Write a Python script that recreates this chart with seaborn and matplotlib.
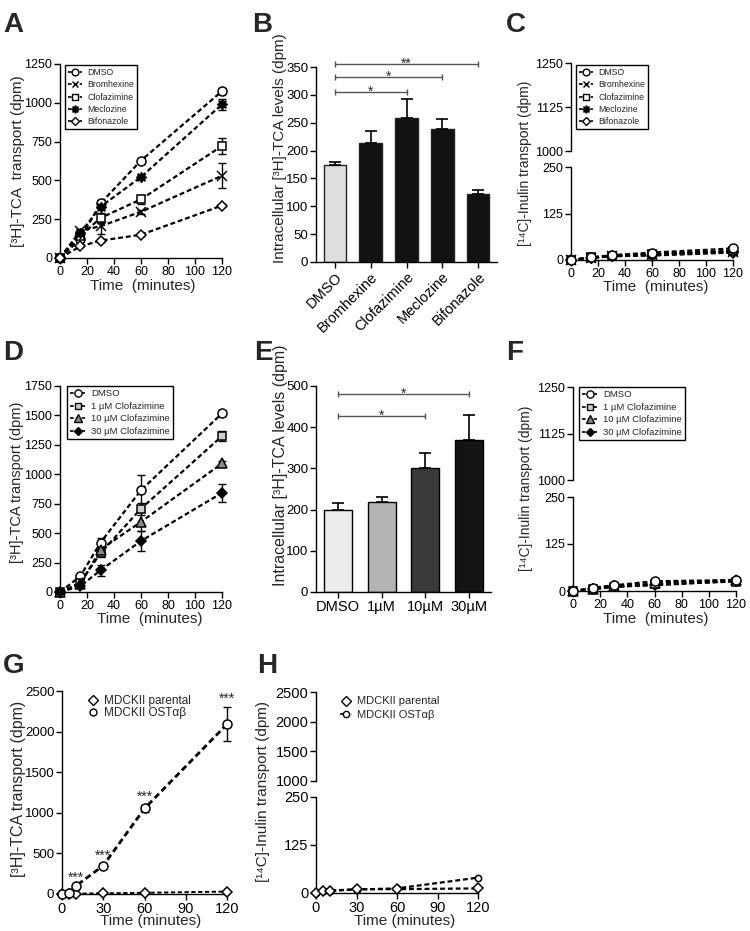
import numpy as np
import pandas as pd
import matplotlib
matplotlib.use("Agg")
import matplotlib.pyplot as plt
import seaborn as sns
from matplotlib.lines import Line2D

# ---------------- data ----------------
time_a = [0, 15, 30, 60, 120]
a_labels = ["DMSO", "Bromhexine", "Clofazimine", "Meclozine", "Bifonazole"]
a_dmso = [0, 122, 352, 628, 1075]
a_dmso_err = [0, 10, 22, 15, 20]
a_brom = [0, 175, 205, 298, 530]
a_brom_err = [0, 10, 50, 12, 80]
a_clof = [0, 140, 258, 378, 722]
a_clof_err = [0, 10, 30, 30, 50]
a_mecl = [0, 160, 330, 522, 990]
a_mecl_err = [0, 10, 15, 15, 35]
a_bifo = [0, 75, 112, 150, 338]
a_bifo_err = [0, 5, 10, 10, 12]

b_cats = ["DMSO", "Bromhexine", "Clofazimine", "Meclozine", "Bifonazole"]
b_vals = [174, 214, 258, 238, 122]
b_errs = [6, 21, 34, 18, 8]
b_sig = [(0, 4, 355, "**"), (0, 3, 332, "*"), (0, 2, 305, "*")]

c_dmso = [0, 7, 13, 20, 31]
c_brom = [0, 6, 10, 14, 22]
c_clof = [0, 7, 11, 15, 25]
c_mecl = [0, 6, 12, 16, 24]
c_bifo = [0, 5, 10, 12, 20]

d_labels = ["DMSO", "1 µM Clofazimine", "10 µM Clofazimine", "30 µM Clofazimine"]
d_dmso = [0, 133, 420, 865, 1517]
d_dmso_err = [0, 15, 40, 125, 25]
d_c1 = [0, 80, 330, 708, 1324]
d_c1_err = [0, 10, 30, 50, 40]
d_c10 = [0, 65, 360, 596, 1092]
d_c10_err = [0, 8, 25, 80, 25]
d_c30 = [0, 50, 184, 434, 842]
d_c30_err = [0, 8, 45, 85, 75]

e_cats = ["DMSO", "1µM", "10µM", "30µM"]
e_vals = [200, 219, 302, 368]
e_errs = [17, 12, 36, 62]
e_sig = [(0, 3, 480, "*"), (0, 2, 427, "*")]

f_dmso = [0, 9, 15, 26, 29]
f_c1 = [0, 6, 10, 18, 25]
f_c10 = [0, 5, 12, 20, 30]
f_c30 = [0, 6, 12, 15, 27]

time_g = [0, 5, 10, 30, 60, 120]
g_labels = ["MDCKII parental", "MDCKII OSTαβ"]
g_par = [0, 3, 5, 8, 15, 30]
g_ost = [0, 10, 98, 350, 1053, 2090]
g_ost_err = [0, 0, 0, 20, 40, 210]
g_sig = ["", "", "***", "***", "***", "***"]

h_par = [0, 5, 6, 10, 10, 12]
h_ost = [0, 4, 6, 9, 12, 40]

# ---------------- style ----------------
sns.set_style("ticks")
plt.rcParams["font.family"] = ["Liberation Sans", "DejaVu Sans"]
plt.rcParams["axes.linewidth"] = 1.0

W, H = 750, 931
fig = plt.figure(figsize=(W / 100, H / 100), dpi=100)


def rect(l, t, r, b):
    return [l / W, 1 - b / H, (r - l) / W, (b - t) / H]


DASH = (0, (2.2, 1.3))
TICK_FS = 9


def style_ax(ax, bottom=True):
    ax.spines["top"].set_visible(False)
    ax.spines["right"].set_visible(False)
    for s in ("left", "bottom"):
        ax.spines[s].set_linewidth(1.0)
        ax.spines[s].set_color("k")
    ax.tick_params(direction="out", length=4, width=1, labelsize=TICK_FS,
                   pad=1.5, colors="k")
    if not bottom:
        ax.spines["bottom"].set_visible(False)
        ax.tick_params(axis="x", bottom=False, labelbottom=False)


def ylabel_px(ax, text, x_right, y_center, fs):
    ax.set_ylabel(text, fontsize=fs)
    bb = ax.get_position()
    xa = (x_right / W - bb.x0) / bb.width
    ya = ((1 - y_center / H) - bb.y0) / bb.height
    ax.yaxis.set_label_coords(xa, ya)


def xlabel_px(ax, text, x_center, y_top, fs):
    ax.set_xlabel(text, fontsize=fs)
    bb = ax.get_position()
    xa = (x_center / W - bb.x0) / bb.width
    ya = ((1 - y_top / H) - bb.y0) / bb.height
    ax.xaxis.set_label_coords(xa, ya)


def series(ax, x, y, err, marker, mfc, ms, mew=1.1, lw=1.6):
    sns.lineplot(x=x, y=y, ax=ax, color="k", linestyle=DASH, linewidth=lw,
                 marker=marker, markersize=ms, markerfacecolor=mfc,
                 markeredgecolor="k", markeredgewidth=mew, errorbar=None,
                 clip_on=False, zorder=3)
    if err is not None:
        ax.errorbar(x, y, yerr=err, fmt="none", ecolor="k", elinewidth=1.0,
                    capsize=3, capthick=1.0, zorder=2, clip_on=False)


def handle(marker, mfc, ms, lw=1.2, ls=DASH):
    return Line2D([0], [0], color="k", linestyle=ls, linewidth=lw,
                  marker=marker, markersize=ms, markerfacecolor=mfc,
                  markeredgecolor="k", markeredgewidth=1.0)


def boxed_legend(ax, handles, labels, x_px, y_px, fs):
    leg = ax.legend(handles, labels, loc="upper left",
                    bbox_to_anchor=(x_px / W, 1 - y_px / H),
                    bbox_transform=fig.transFigure, borderaxespad=0,
                    fontsize=fs, frameon=True, fancybox=False, framealpha=1,
                    edgecolor="k", borderpad=0.35, labelspacing=0.38,
                    handlelength=1.6, handletextpad=0.6)
    leg.get_frame().set_linewidth(1.0)
    return leg


def sig_line(ax, x0, x1, y, text):
    ax.plot([x0, x1], [y, y], color="#555555", lw=1.0, marker="|",
            markersize=5, markeredgewidth=1.0, clip_on=False, zorder=4)
    ax.annotate(text, xy=((x0 + x1) / 2, y), xytext=(0, -2.6),
                textcoords="offset points", ha="center", va="baseline",
                fontsize=10, annotation_clip=False)


def panel_letter(x, y, s):
    fig.text(x / W, 1 - y / H, s, fontsize=20, fontweight="bold",
             va="baseline", ha="left")


time_label = "Time  (minutes)"
tca_label = "[³H]-TCA  transport (dpm)"
inulin_label = "[¹⁴C]-Inulin transport (dpm)"
intra_label = "Intracellular [³H]-TCA levels (dpm)"

a_markers = [("o", "white", 6.5), ("x", "k", 6.5), ("s", "white", 6.0),
             ((8, 1, 0), "k", 7.5), ("D", "white", 5.0)]
d_markers = [("o", "white", 6.5), ("s", "#cfcfcf", 6.0), ("^", "#8a8a8a", 6.5),
             ("D", "k", 5.5)]

# ---------------- panel A ----------------
axA = fig.add_axes(rect(60, 64, 222, 258))
style_ax(axA)
a_series = [(a_dmso, a_dmso_err), (a_brom, a_brom_err), (a_clof, a_clof_err),
            (a_mecl, a_mecl_err), (a_bifo, a_bifo_err)]
for (vals, errs), (m, fc, ms) in zip(a_series, a_markers):
    series(axA, time_a, vals, errs, m, fc, ms)
axA.set_xlim(0, 120)
axA.set_ylim(0, 1250)
axA.set_xticks([0, 20, 40, 60, 80, 100, 120])
axA.set_yticks([0, 250, 500, 750, 1000, 1250])
boxed_legend(axA, [handle(m, fc, ms * 0.75) for m, fc, ms in a_markers],
             a_labels, 65, 65, 6.3)
ylabel_px(axA, tca_label, 25, 161, 11)
xlabel_px(axA, time_label, 143, 279, 11)

# ---------------- panel B ----------------
axB = fig.add_axes(rect(316, 67, 497, 262))
b_colors = ["#dedede", "#121212", "#121212", "#121212", "#121212"]
sns.barplot(x=b_cats, y=b_vals, hue=b_cats, palette=b_colors, legend=False,
            ax=axB, width=0.64, saturation=1, edgecolor="#222222",
            linewidth=1.0, errorbar=None)
axB.errorbar(range(len(b_vals)), b_vals, yerr=[np.zeros(len(b_errs)), b_errs],
             fmt="none", ecolor="k", elinewidth=1.2, capsize=4, capthick=1.2,
             zorder=3)
style_ax(axB)
axB.tick_params(axis="y", labelsize=9.5)
axB.set_xlim(-0.53, 4.53)
axB.set_ylim(0, 350)
axB.set_yticks(range(0, 351, 50))
axB.set_xticks(range(len(b_cats)))
axB.set_xticklabels(b_cats, rotation=45, ha="right", rotation_mode="anchor",
                    fontsize=10.5)
axB.set_xlabel("")
for x0, x1, y, t in b_sig:
    sig_line(axB, x0, x1, y, t)
ylabel_px(axB, intra_label, 287, 148, 11)

# ---------------- panel C ----------------
axC2 = fig.add_axes(rect(571, 63, 733, 151))
axC = fig.add_axes(rect(571, 167, 733, 260))
style_ax(axC2, bottom=False)
style_ax(axC)
c_series = [c_dmso, c_brom, c_clof, c_mecl, c_bifo]
order = [4, 3, 2, 1, 0]
for i in order:
    m, fc, ms = a_markers[i]
    series(axC, time_a, c_series[i], None, m, fc, ms)
for a in (axC, axC2):
    a.set_xlim(0, 120)
axC.set_ylim(0, 250)
axC.set_yticks([0, 125, 250])
axC2.set_ylim(1000, 1250)
axC2.set_yticks([1000, 1125, 1250])
axC.set_xticks([0, 20, 40, 60, 80, 100, 120])
boxed_legend(axC2, [handle(m, fc, ms * 0.75) for m, fc, ms in a_markers],
             a_labels, 576, 65, 6.3)
ylabel_px(axC, inulin_label, 532, 163, 10)
xlabel_px(axC, time_label, 656, 280, 11)

# ---------------- panel D ----------------
axD = fig.add_axes(rect(60, 386, 222, 592))
style_ax(axD)
d_series = [(d_dmso, d_dmso_err), (d_c1, d_c1_err), (d_c10, d_c10_err),
            (d_c30, d_c30_err)]
for (vals, errs), (m, fc, ms) in zip(d_series, d_markers):
    series(axD, time_a, vals, errs, m, fc, ms)
axD.set_xlim(0, 120)
axD.set_ylim(0, 1750)
axD.set_xticks([0, 20, 40, 60, 80, 100, 120])
axD.set_yticks(range(0, 1751, 250))
boxed_legend(axD, [handle(m, fc, ms * 0.8) for m, fc, ms in d_markers],
             d_labels, 67, 386, 6.8)
ylabel_px(axD, tca_label.replace("  ", " "), 24, 482, 10.5)
xlabel_px(axD, time_label, 150, 612, 11)

# ---------------- panel E ----------------
axE = fig.add_axes(rect(316, 386, 491, 592))
e_colors = ["#ececec", "#b4b4b4", "#3a3a3a", "#141414"]
sns.barplot(x=e_cats, y=e_vals, hue=e_cats, palette=e_colors, legend=False,
            ax=axE, width=0.64, saturation=1, edgecolor="k", linewidth=1.0,
            errorbar=None)
axE.errorbar(range(len(e_vals)), e_vals, yerr=[np.zeros(len(e_errs)), e_errs],
             fmt="none", ecolor="k", elinewidth=1.2, capsize=4, capthick=1.2,
             zorder=3)
style_ax(axE)
axE.tick_params(axis="y", labelsize=9.5)
axE.set_xlim(-0.5, 3.5)
axE.set_ylim(0, 500)
axE.set_yticks(range(0, 501, 100))
axE.set_xticks(range(len(e_cats)))
axE.set_xticklabels(e_cats, fontsize=10.5)
axE.set_xlabel("")
for x0, x1, y, t in e_sig:
    sig_line(axE, x0, x1, y, t)
ylabel_px(axE, intra_label, 288, 465, 11.5)

# ---------------- panel F ----------------
axF2 = fig.add_axes(rect(573, 387, 736, 480))
axF = fig.add_axes(rect(573, 497, 736, 591))
style_ax(axF2, bottom=False)
style_ax(axF)
f_series = [f_dmso, f_c1, f_c10, f_c30]
for i in [3, 2, 1, 0]:
    m, fc, ms = d_markers[i]
    series(axF, time_a, f_series[i], None, m, fc, ms)
for a in (axF, axF2):
    a.set_xlim(0, 120)
axF.set_ylim(0, 250)
axF.set_yticks([0, 125, 250])
axF2.set_ylim(1000, 1250)
axF2.set_yticks([1000, 1125, 1250])
axF.set_xticks([0, 20, 40, 60, 80, 100, 120])
boxed_legend(axF2, [handle(m, fc, ms * 0.8) for m, fc, ms in d_markers],
             d_labels, 579, 387, 6.8)
ylabel_px(axF, inulin_label, 533, 488, 10)
xlabel_px(axF, time_label, 656, 612, 11)

# ---------------- panel G ----------------
axG = fig.add_axes(rect(62, 691, 227, 894))
style_ax(axG)
series(axG, time_g, g_par, None, "D", "white", 5.5, lw=1.4)
series(axG, time_g, g_ost, g_ost_err, "o", "white", 6.5, lw=2.0)
for t, v, e, s in zip(time_g, g_ost, g_ost_err, g_sig):
    if s:
        axG.annotate(s, xy=(t, v + e), xytext=(0, 3), textcoords="offset points",
                     ha="center", va="baseline", fontsize=10,
                     annotation_clip=False)
axG.set_xlim(0, 120)
axG.set_ylim(0, 2500)
axG.set_xticks([0, 30, 60, 90, 120])
axG.set_yticks(range(0, 2501, 500))
axG.tick_params(axis="x", labelsize=10.5)
axG.tick_params(axis="y", labelsize=9.5)
axG.legend([handle("D", "white", 5, lw=0, ls="none"),
            handle("o", "white", 5, lw=0, ls="none")], g_labels,
           loc="upper left", bbox_to_anchor=(82 / W, 1 - 690 / H),
           bbox_transform=fig.transFigure, borderaxespad=0, frameon=False,
           fontsize=8.5, labelspacing=0.05, handlelength=1.0,
           handletextpad=0.5)
ylabel_px(axG, tca_label.replace("  ", " "), 26, 789, 11.5)
xlabel_px(axG, "Time (minutes)", 151, 914, 11)

# ---------------- panel H ----------------
axH2 = fig.add_axes(rect(316, 692, 478, 781))
axH = fig.add_axes(rect(316, 797, 478, 893))
style_ax(axH2, bottom=False)
style_ax(axH)
series(axH, time_g, h_ost, None, "o", "white", 4.5, lw=1.6)
series(axH, time_g, h_par, None, "D", "white", 5.5, lw=1.6)
for a in (axH, axH2):
    a.set_xlim(0, 120)
    a.tick_params(labelsize=10.5)
axH.set_ylim(0, 250)
axH.set_yticks([0, 125, 250])
axH2.set_ylim(1000, 2500)
axH2.set_yticks([1000, 1500, 2000, 2500])
axH.set_xticks([0, 30, 60, 90, 120])
axH2.legend([handle("D", "white", 5, lw=0, ls="none"),
             handle("o", "white", 4.5, lw=1.2)], g_labels,
            loc="upper left", bbox_to_anchor=(336 / W, 1 - 692 / H),
            bbox_transform=fig.transFigure, borderaxespad=0, frameon=False,
            fontsize=8, labelspacing=0.35, handlelength=1.0,
            handletextpad=0.5)
ylabel_px(axH, inulin_label, 270, 792, 11)
xlabel_px(axH, "Time (minutes)", 405, 914, 11)

# ---------------- panel letters ----------------
panel_letter(3, 32, "A")
panel_letter(252, 32, "B")
panel_letter(506, 32, "C")
panel_letter(3, 360, "D")
panel_letter(254, 360, "E")
panel_letter(506, 360, "F")
panel_letter(3, 673, "G")
panel_letter(257, 673, "H")

fig.savefig("out.png", dpi=100)
